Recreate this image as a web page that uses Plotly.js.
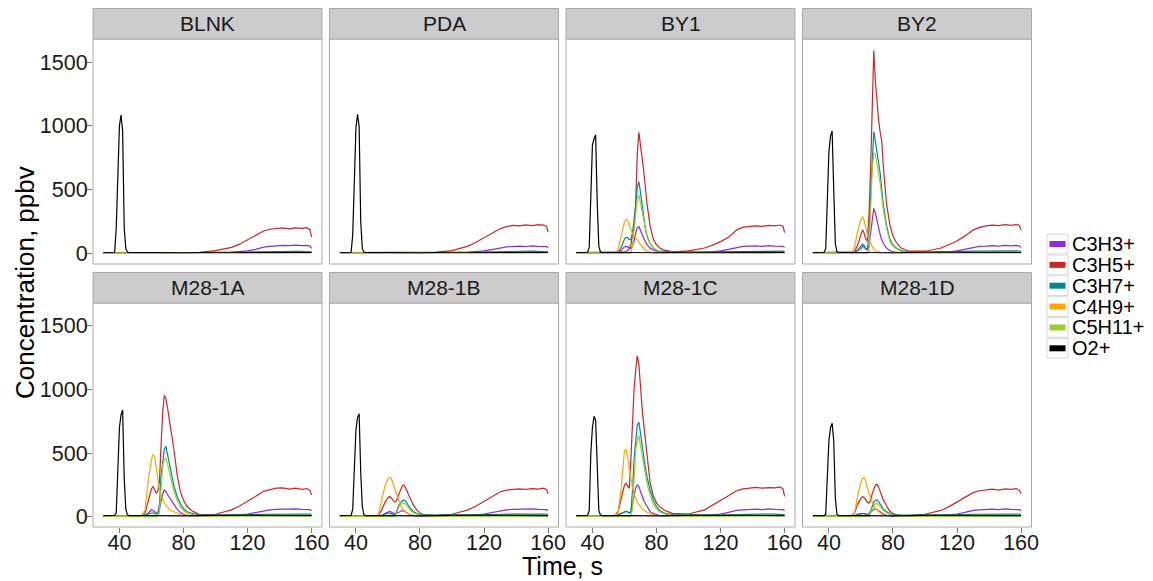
<!DOCTYPE html>
<html><head><meta charset="utf-8">
<script src="https://cdn.plot.ly/plotly-3.0.1.min.js"></script>
<style>html,body{margin:0;padding:0;background:#fff}#chart{width:1153px;height:581px}</style>
</head><body><div id="chart"></div>
<script>
// ---------- data ----------
const panelNames = ["BLNK","PDA","BY1","BY2","M28-1A","M28-1B","M28-1C","M28-1D"];
const speciesNames = ["C3H3+","C3H5+","C3H7+","C4H9+","C5H11+","O2+"];
const speciesColors = ["#8B2BE2","#CD2626","#008B8B","#FFA500","#9ACD32","#000000"];
const xTickVals = [40,80,120,160];
const yTickVals = [0,500,1000,1500];

const timeVOC = [30,50,54,56,58, 60,61,62,63,64,65,66,67,68,69,70,71,72,73,74, 76,78,80,82,85,90, 100,110,115,120,125,130,134,138,142,146,150,154,157,159,160];
const timeO2 = [30,36,37,38,39,40,41,42,43,44,45,46,60,80,100,120,140,160];

// BLNK
const C3H3_BLNK = [5,5,5,5,5, 5,5,5,5,5,5,5,5,5,5,5,5,5,5,5, 5,5,5,6,8,8, 10,12,15,22,35,52,58,62,65,63,67,64,66,60,42];
const C3H5_BLNK = [10,10,10,10,10, 10,10,10,10,10,10,10,10,10,10,10,10,10,10,10, 10,10,10,11,12,12, 25,50,75,110,145,178,192,196,202,195,203,198,204,188,130];
const C3H7_BLNK = [8,8,8,8,8, 8,8,8,8,8,8,8,8,8,8,8,8,8,8,8, 8,8,8,8,8,8, 9,10,11,12,14,16,17,18,18,17,19,18,19,18,15];
const C4H9_BLNK = [6,6,6,6,6, 6,6,6,6,6,6,6,6,6,6,6,6,6,6,6, 6,6,6,6,6,6, 6,7,7,8,9,10,10,11,11,10,11,11,12,11,10];
const C5H11_BLNK = [4,4,4,4,4, 4,4,4,4,4,4,4,4,4,4,4,4,4,4,4, 4,4,4,4,4,4, 4,5,5,5,6,6,7,7,7,7,8,7,8,7,6];
const O2_BLNK = [10,10,12,200,700,1000,1085,960,200,40,14,10,10,8,12,10,12,10];

// PDA
const C3H3_PDA = [5,5,5,5,5, 5,5,5,5,5,5,5,5,5,5,5,5,5,5,5, 5,5,5,6,8,8, 10,12,15,22,33,48,54,57,60,57,62,58,60,56,45];
const C3H5_PDA = [10,10,10,10,10, 10,10,10,10,10,10,10,10,10,10,10,10,10,10,10, 10,10,10,11,12,13, 25,60,90,125,160,195,212,222,218,226,220,228,224,215,170];
const C3H7_PDA = [8,8,8,8,8, 8,8,8,8,8,8,8,8,8,8,8,8,8,8,8, 8,8,8,8,8,8, 9,10,11,12,14,16,18,19,20,19,20,19,20,19,16];
const C4H9_PDA = [6,6,6,6,6, 6,6,6,6,6,6,6,6,6,6,6,6,6,6,6, 6,6,6,6,6,6, 6,7,7,8,9,10,11,11,12,11,12,11,12,11,10];
const C5H11_PDA = [4,4,4,4,4, 4,4,4,4,4,4,4,4,4,4,4,4,4,4,4, 4,4,4,4,4,4, 4,5,5,5,6,6,7,7,7,7,8,7,8,7,6];
const O2_PDA = [10,10,12,150,650,980,1090,1000,250,40,14,10,10,8,12,10,12,10];

// BY1
const C3H3_BY1 = [5,5,5,10,25, 55,58,52,45,42,60,100,160,205,212,180,150,120,95,75, 45,28,18,12,8,8, 10,12,15,22,35,50,58,60,62,58,64,60,62,58,48];
const C3H5_BY1 = [10,10,12,14,15, 15,18,25,40,70,150,200,380,780,950,860,780,650,530,400, 220,115,70,45,28,15, 22,45,68,95,130,185,208,212,218,214,222,218,225,215,165];
const C3H7_BY1 = [5,5,8,10,50, 115,130,125,110,112,160,260,380,520,565,480,380,270,200,145, 80,45,28,20,18,15, 14,14,15,16,18,20,20,21,22,21,22,21,22,21,18];
const C4H9_BY1 = [5,5,8,30,150, 250,270,262,225,185,155,140,125,115,95,72,55,40,28,20, 12,8,7,6,6,6, 6,6,7,7,8,9,10,10,10,11,10,11,10,11,10];
const C5H11_BY1 = [3,3,3,3,3, 3,3,3,3,3,60,200,330,430,462,400,330,250,190,140, 80,42,25,16,10,6, 5,5,5,6,6,7,7,7,8,7,8,7,8,7,6];
const O2_BY1 = [10,10,12,50,500,850,900,930,400,60,14,10,10,8,12,10,12,10];

// BY2
const C3H3_BY2 = [5,5,5,10,25, 40,60,50,35,30,60,150,280,355,320,260,200,150,110,80, 45,25,15,10,8,8, 10,12,15,22,35,52,58,60,64,60,66,62,65,60,50];
const C3H5_BY2 = [10,10,12,15,70, 150,187,160,115,100,300,650,1050,1590,1350,1180,1050,950,880,680, 390,230,140,90,45,20, 20,45,70,100,140,185,206,218,224,220,228,222,230,222,185];
const C3H7_BY2 = [5,5,6,10,30, 60,75,65,40,35,150,450,750,955,880,800,720,630,500,380, 220,115,70,45,25,14, 14,14,15,16,18,20,21,22,22,21,22,21,22,21,18];
const C4H9_BY2 = [5,5,5,50,180, 270,292,260,200,150,110,80,55,35,25,18,14,10,9,8, 7,6,6,6,6,6, 6,6,7,7,8,9,10,10,10,11,10,11,10,11,10];
const C5H11_BY2 = [3,3,3,3,3, 3,3,3,3,3,20,350,650,790,780,700,630,550,450,340, 200,100,60,40,20,8, 6,6,6,6,7,7,8,8,8,8,8,8,8,8,7];
const O2_BY2 = [10,10,12,40,400,800,920,960,500,80,15,10,10,8,12,10,12,10];

// M28-1A
const C3H3_M28_1A = [5,5,5,10,30, 55,50,40,30,28,60,120,180,211,200,175,155,140,125,95, 60,35,20,12,8,8, 10,12,15,22,35,50,55,58,60,57,62,58,60,56,48];
const C3H5_M28_1A = [10,10,12,30,120, 220,237,210,185,200,280,560,820,955,930,860,780,710,620,530, 335,200,130,85,50,18, 20,55,85,120,160,200,215,225,228,218,225,215,222,210,170];
const C3H7_M28_1A = [5,5,8,15,20, 30,32,28,22,25,100,320,450,530,555,490,420,360,300,245, 160,105,65,42,28,16, 14,14,15,16,18,20,21,22,22,21,22,21,22,21,18];
const C4H9_M28_1A = [5,5,8,54,289, 450,490,470,380,270,210,165,130,110,90,72,60,50,45,40, 28,20,16,12,10,8, 7,7,8,8,9,10,10,11,11,11,11,12,11,11,10];
const C5H11_M28_1A = [3,3,3,3,3, 3,3,3,3,3,40,250,400,450,460,420,360,300,250,200, 130,80,50,32,20,8, 6,6,6,6,7,7,8,8,8,8,8,8,8,8,7];
const O2_M28_1A = [10,10,12,30,450,700,800,840,300,60,15,10,10,8,12,10,12,10];

// M28-1B
const C3H3_M28_1B = [5,5,5,10,25, 40,42,38,30,25,25,30,38,45,49,45,38,30,22,16, 10,7,6,6,6,7, 10,12,15,22,35,50,55,58,60,57,62,58,60,56,48];
const C3H5_M28_1B = [10,10,12,50,110, 150,160,150,130,118,120,150,190,225,245,250,230,200,170,140, 90,55,30,18,14,12, 20,55,85,120,160,195,210,215,220,215,222,218,225,215,180];
const C3H7_M28_1B = [5,5,6,12,22, 28,29,26,20,18,30,70,100,115,125,133,125,105,85,65, 40,25,18,15,14,13, 13,14,15,16,18,20,21,22,22,21,22,21,22,21,18];
const C4H9_M28_1B = [5,5,16,120,237, 300,310,305,270,220,190,150,115,85,65,48,36,28,20,16, 12,10,8,7,6,6, 6,6,7,7,8,9,10,10,10,11,10,11,10,11,10];
const C5H11_M28_1B = [3,3,3,3,3, 3,3,3,3,3,20,55,80,95,105,107,100,85,68,52, 30,18,12,9,7,6, 5,5,5,6,6,7,7,7,8,7,8,7,8,7,6];
const O2_M28_1B = [10,10,12,60,450,680,780,810,350,80,15,10,10,8,12,10,12,10];

// M28-1C
const C3H3_M28_1C = [5,5,5,10,25, 42,45,38,30,35,90,170,225,250,240,200,160,130,107,85, 42,25,15,10,8,8, 10,12,15,22,35,50,55,58,60,57,62,58,60,56,48];
const C3H5_M28_1C = [10,10,12,40,150, 250,264,240,224,450,730,1000,1150,1266,1200,1000,860,730,600,470, 270,165,110,78,52,27, 22,55,90,125,165,205,220,225,232,225,230,228,235,220,160];
const C3H7_M28_1C = [5,5,8,15,25, 40,42,38,32,40,200,450,620,720,745,650,560,470,393,320, 211,130,81,50,30,17, 14,14,15,16,18,20,21,22,22,21,22,21,22,21,18];
const C4H9_M28_1C = [5,5,12,29,230, 520,530,470,380,300,230,180,145,115,95,78,66,55,45,36, 24,16,12,10,8,7, 6,6,7,7,8,9,10,10,10,11,10,11,10,11,10];
const C5H11_M28_1C = [3,3,3,3,3, 3,3,3,3,3,60,330,520,600,640,560,480,400,330,265, 170,100,62,38,22,9, 6,6,6,6,7,7,8,8,8,8,8,8,8,8,7];
const O2_M28_1C = [10,10,12,50,500,700,790,760,300,50,14,10,10,8,12,10,12,10];

// M28-1D
const C3H3_M28_1D = [5,5,5,8,15, 25,28,25,20,18,22,35,48,58,62,58,50,40,30,22, 12,8,6,6,6,7, 10,12,15,22,35,50,55,58,60,57,62,58,60,56,48];
const C3H5_M28_1D = [10,10,10,30,100, 145,158,150,130,115,108,130,180,225,250,255,235,200,165,133, 85,45,25,16,12,10, 20,50,80,115,155,190,205,212,218,210,220,215,222,208,180];
const C3H7_M28_1D = [5,5,6,12,22, 25,28,26,22,18,20,45,85,115,128,133,120,100,80,62, 40,25,18,15,14,13, 13,14,15,16,18,20,21,22,22,21,22,21,22,21,18];
const C4H9_M28_1D = [5,5,5,30,170, 270,300,310,280,230,180,150,115,85,65,55,40,30,22,16, 12,10,8,7,6,6, 6,6,7,7,8,9,10,10,10,11,10,11,10,11,10];
const C5H11_M28_1D = [3,3,3,3,3, 3,3,3,3,3,3,30,65,90,100,105,95,80,65,50, 30,18,12,9,7,6, 5,5,5,6,6,7,7,7,8,7,8,7,8,7,6];
const O2_M28_1D = [10,10,10,20,300,600,700,735,600,150,20,10,10,8,12,10,12,10];

const panelSeries = [
  [C3H3_BLNK, C3H5_BLNK, C3H7_BLNK, C4H9_BLNK, C5H11_BLNK, O2_BLNK],
  [C3H3_PDA, C3H5_PDA, C3H7_PDA, C4H9_PDA, C5H11_PDA, O2_PDA],
  [C3H3_BY1, C3H5_BY1, C3H7_BY1, C4H9_BY1, C5H11_BY1, O2_BY1],
  [C3H3_BY2, C3H5_BY2, C3H7_BY2, C4H9_BY2, C5H11_BY2, O2_BY2],
  [C3H3_M28_1A, C3H5_M28_1A, C3H7_M28_1A, C4H9_M28_1A, C5H11_M28_1A, O2_M28_1A],
  [C3H3_M28_1B, C3H5_M28_1B, C3H7_M28_1B, C4H9_M28_1B, C5H11_M28_1B, O2_M28_1B],
  [C3H3_M28_1C, C3H5_M28_1C, C3H7_M28_1C, C4H9_M28_1C, C5H11_M28_1C, O2_M28_1C],
  [C3H3_M28_1D, C3H5_M28_1D, C3H7_M28_1D, C4H9_M28_1D, C5H11_M28_1D, O2_M28_1D]
];

// ---------- layout ----------
const W = 1153, H = 581;
const FONT = "Liberation Sans, Arial, sans-serif";
const colX = [[93,322],[329.5,558.5],[566,795],[802.5,1031.5]];
const rowY = [[39,264],[303,527]];
const stripH = 30.5;
const px = v => v / W;
const py = v => 1 - v / H;

const traces = [];
const shapes = [];
const annotations = [];
const layout = {
  width: W, height: H,
  margin: {l:0, r:0, t:0, b:0},
  paper_bgcolor: "#ffffff", plot_bgcolor: "#ffffff",
  showlegend: false,
  font: {family: FONT, color: "#1a1a1a", size: 21},
  shapes: shapes, annotations: annotations
};

panelNames.forEach((name, k) => {
  const r = Math.floor(k / 4), c = k % 4;
  const suf = k === 0 ? "" : String(k + 1);
  panelSeries[k].forEach((arr, s) => {
    traces.push({
      type: "scatter", mode: "lines",
      x: s === 5 ? timeO2 : timeVOC, y: arr,
      xaxis: "x" + suf, yaxis: "y" + suf,
      name: speciesNames[s],
      line: {color: speciesColors[s], width: 1.2},
      hoverinfo: "skip", showlegend: false
    });
  });
  layout["xaxis" + suf] = {
    domain: [px(colX[c][0]), px(colX[c][1])],
    range: [23.5, 166.5], anchor: "y" + suf,
    tickvals: xTickVals, ticktext: xTickVals.map(String),
    showticklabels: r === 1, ticks: r === 1 ? "outside" : "",
    ticklen: 5, tickwidth: 1, tickcolor: "#7a7a7a",
    ticklabelstandoff: -9,
    tickfont: {family: FONT, size: 21.5, color: "#1a1a1a"},
    showgrid: false, zeroline: false, showline: false, fixedrange: true
  };
  layout["yaxis" + suf] = {
    domain: [py(rowY[r][1]), py(rowY[r][0])],
    range: [-80, 1680], anchor: "x" + suf,
    tickvals: yTickVals, ticktext: yTickVals.map(String),
    showticklabels: c === 0, ticks: c === 0 ? "outside" : "",
    ticklen: 5, tickwidth: 1, tickcolor: "#7a7a7a",
    ticklabelstandoff: -5,
    tickfont: {family: FONT, size: 21.5, color: "#1a1a1a"},
    showgrid: false, zeroline: false, showline: false, fixedrange: true
  };
  // panel border
  shapes.push({type: "rect", xref: "paper", yref: "paper", layer: "above",
    x0: px(colX[c][0]), x1: px(colX[c][1]), y0: py(rowY[r][1]), y1: py(rowY[r][0]),
    line: {color: "#a8a8a8", width: 1}, fillcolor: "rgba(0,0,0,0)"});
  // strip
  shapes.push({type: "rect", xref: "paper", yref: "paper", layer: "above",
    x0: px(colX[c][0]), x1: px(colX[c][1]), y0: py(rowY[r][0]), y1: py(rowY[r][0] - stripH),
    line: {color: "#a8a8a8", width: 1}, fillcolor: "#cccccc"});
  annotations.push({xref: "paper", yref: "paper", showarrow: false,
    x: px((colX[c][0] + colX[c][1]) / 2), y: py(rowY[r][0] - stripH / 2),
    xanchor: "center", yanchor: "middle", text: name,
    font: {family: FONT, size: 21, color: "#1a1a1a"}});
});

// axis titles
annotations.push({xref: "paper", yref: "paper", showarrow: false,
  x: px(562), y: py(566), xanchor: "center", yanchor: "middle",
  text: "Time, s", font: {family: FONT, size: 25, color: "#000"}});
annotations.push({xref: "paper", yref: "paper", showarrow: false,
  x: px(25), y: py(283), xanchor: "center", yanchor: "middle", textangle: -90,
  text: "Concentration, ppbv", font: {family: FONT, size: 26, color: "#000"}});

// legend (keys + labels)
speciesNames.forEach((nm, i) => {
  const cy = 244 + i * 20.86;
  shapes.push({type: "rect", xref: "paper", yref: "paper",
    x0: px(1047), x1: px(1068), y0: py(cy + 9.8), y1: py(cy - 9.8),
    line: {color: "#d9d9d9", width: 1}, fillcolor: "#ffffff"});
  shapes.push({type: "rect", xref: "paper", yref: "paper",
    x0: px(1049.5), x1: px(1065.5), y0: py(cy + 3), y1: py(cy - 3),
    line: {width: 0}, fillcolor: speciesColors[i]});
  annotations.push({xref: "paper", yref: "paper", showarrow: false,
    x: px(1070), y: py(cy), xanchor: "left", yanchor: "middle",
    text: nm, font: {family: FONT, size: 20, color: "#000"}});
});

Plotly.newPlot("chart", traces, layout, {displayModeBar: false, staticPlot: true});
</script>
</body></html>
